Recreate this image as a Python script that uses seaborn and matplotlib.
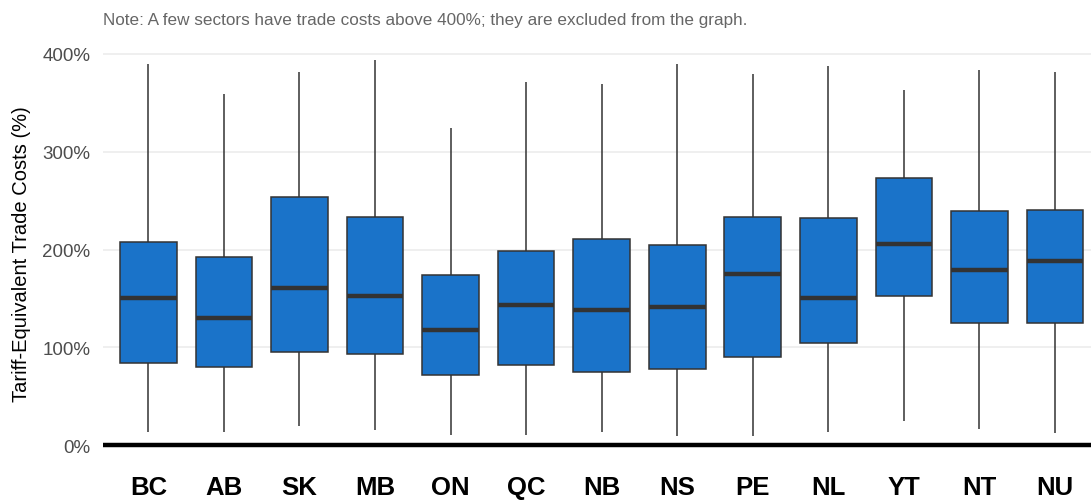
import matplotlib
matplotlib.use("Agg")
import matplotlib.pyplot as plt
import seaborn as sns
import pandas as pd
from matplotlib.ticker import FuncFormatter

provinces = ["BC", "AB", "SK", "MB", "ON", "QC", "NB", "NS", "PE", "NL", "YT", "NT", "NU"]
whisker_low = [13.3, 13.3, 19.4, 15.3, 10.2, 10.2, 13.3, 9.2, 9.2, 13.3, 24.6, 16.4, 12.3]
q1 = [83.9, 79.8, 95.1, 93.1, 71.6, 81.8, 74.7, 77.7, 90.0, 104.3, 152.4, 124.8, 124.8]
median = [150.4, 129.9, 160.6, 152.4, 117.6, 143.2, 138.1, 141.2, 174.9, 150.4, 205.6, 179.0, 188.2]
q3 = [207.7, 192.3, 253.7, 233.2, 173.9, 198.5, 210.7, 204.6, 233.2, 232.2, 273.1, 239.4, 240.4]
whisker_high = [389.8, 359.0, 381.6, 393.9, 324.3, 371.4, 369.3, 389.8, 379.5, 387.7, 363.2, 383.6, 381.6]
yticks = [0, 100, 200, 300, 400]

rows = []
for i, p in enumerate(provinces):
    for v in (whisker_low[i], q1[i], median[i], q3[i], whisker_high[i]):
        rows.append({"province": p, "cost": v})
df = pd.DataFrame(rows)

sns.set_theme(style="white")
plt.rcParams['font.family'] = ['Liberation Sans', 'DejaVu Sans']

fig = plt.figure(figsize=(10.91, 5.02), dpi=100)
ax = fig.add_axes([103/1091, 44/502, 1 - 103/1091, 408/502])

for t in yticks:
    ax.axhline(t, color="#ebebeb", lw=1.1, zorder=0)

sns.boxplot(data=df, x="province", y="cost", order=provinces, whis=(0, 100),
            color="#1a73c9", saturation=1, width=0.75, ax=ax,
            linecolor="#333333", linewidth=1.1,
            medianprops=dict(color="#333333", linewidth=3.2),
            whiskerprops=dict(color="#333333", linewidth=1.1),
            capprops=dict(linewidth=0),
            boxprops=dict(edgecolor="#333333", linewidth=1.1))

ax.axhline(0, color="black", lw=3.2, zorder=5)

ax.set_ylim(-12, 405)
ax.set_xlim(-0.6, 12.476)
ax.set_yticks(yticks)
ax.yaxis.set_major_formatter(FuncFormatter(lambda v, p: f"{int(v)}%"))
ax.tick_params(axis="y", labelsize=13.5, labelcolor="#4d4d4d", length=0, pad=9)
ax.tick_params(axis="x", labelsize=18.5, length=0, pad=13)
for lab in ax.get_xticklabels():
    lab.set_fontweight("bold")
    lab.set_color("black")
ax.set_xlabel("")
ax.set_ylabel("Tariff-Equivalent Trade Costs (%)", fontsize=14.5, color="black", labelpad=8)
for s in ax.spines.values():
    s.set_visible(False)
ax.grid(False)

fig.text(103/1091, 1 - 20/502, "Note: A few sectors have trade costs above 400%; they are excluded from the graph.",
         fontsize=12.3, color="#666666", ha="left", va="center")

fig.savefig("out.png", dpi=100)
